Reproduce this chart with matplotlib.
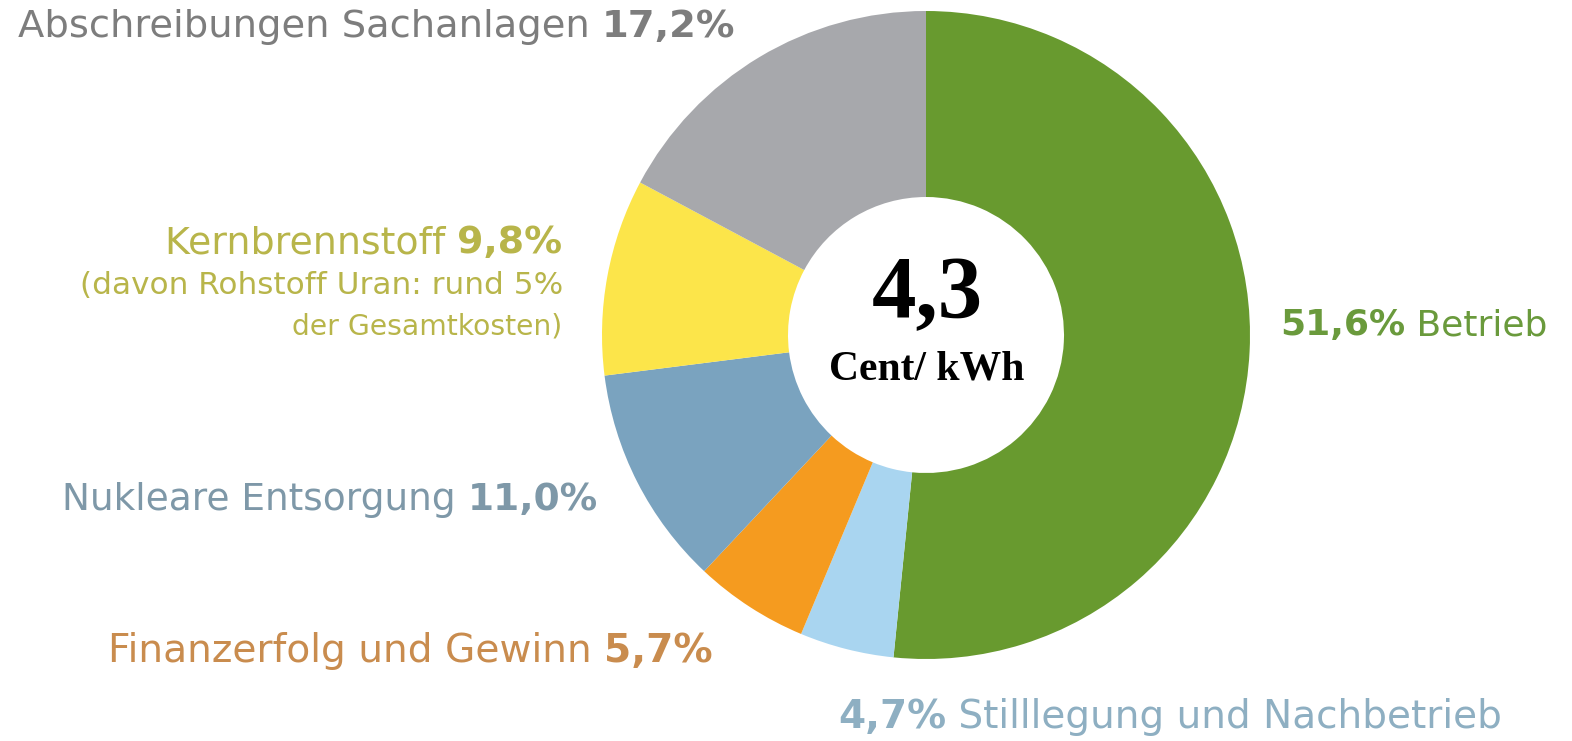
import matplotlib
matplotlib.use('Agg')
import matplotlib.pyplot as plt

# Kostenanteile (Prozent), im Uhrzeigersinn ab 12 Uhr
labels = ['Betrieb', 'Stilllegung und Nachbetrieb', 'Finanzerfolg und Gewinn',
          'Nukleare Entsorgung', 'Kernbrennstoff', 'Abschreibungen Sachanlagen']
shares = [51.6, 4.7, 5.7, 11.0, 9.8, 17.2]
pct_text = ['51,6%', '4,7%', '5,7%', '11,0%', '9,8%', '17,2%']
colors = ['#689a2f', '#a9d5f0', '#f59b1f', '#7aa3bf', '#fce54a', '#a7a8ac']
text_colors = ['#6a9a3c', '#8eafc2', '#c98c4e', '#7e98a8', '#b8b54a', '#7d7d7d']
center_value = '4,3'
center_unit = 'Cent/ kWh'

W, H = 1572, 741
fig = plt.figure(figsize=(W / 100, H / 100), dpi=100)
ax = fig.add_axes([0, 0, 1, 1])
ax.set_xlim(0, W)
ax.set_ylim(0, H)
ax.set_aspect('equal')
ax.axis('off')

ax.pie(shares, colors=colors, startangle=90, counterclock=False,
       center=(926, H - 335), radius=324,
       wedgeprops=dict(width=186, linewidth=0))
ax.set_xlim(0, W)
ax.set_ylim(0, H)

fig.canvas.draw()
renderer = fig.canvas.get_renderer()
FONT = 'DejaVu Sans'


def put_parts(parts, x0, x1, y, color, size=22):
    # parts: list of (text, bold) side by side, fitted between x0 and x1; y from top
    objs = []
    for txt, bold in parts:
        t = ax.text(0, H - y, txt, fontsize=size, color=color, family=FONT,
                    fontweight='bold' if bold else 'normal', va='center', ha='left')
        objs.append(t)
    total = sum(o.get_window_extent(renderer).width for o in objs)
    new_size = size * (x1 - x0) / total
    for o in objs:
        o.set_fontsize(new_size)
    start = x0
    for o in objs:
        o.set_x(start)
        start += o.get_window_extent(renderer).width


put_parts([(labels[5] + ' ', False), (pct_text[5], True)], 18, 735, 27, text_colors[5])
put_parts([(labels[4] + ' ', False), (pct_text[4], True)], 165, 562, 243, text_colors[4])
put_parts([('(davon Rohstoff Uran: rund 5%', False)], 80, 562, 285, text_colors[4])
put_parts([('der Gesamtkosten)', False)], 292, 562, 326, text_colors[4])
put_parts([(labels[3] + ' ', False), (pct_text[3], True)], 62, 598, 500, text_colors[3])
put_parts([(labels[2] + ' ', False), (pct_text[2], True)], 108, 713, 651, text_colors[2])
put_parts([(pct_text[0], True), (' ' + labels[0], False)], 1280, 1548, 325, text_colors[0])
put_parts([(pct_text[1], True), (' ' + labels[1], False)], 838, 1503, 717, text_colors[1])

ax.text(927, H - 296, center_value, fontsize=64, fontweight='bold',
        family='Liberation Serif', ha='center', va='center', color='black')
ax.text(927, H - 369, center_unit, fontsize=30, fontweight='bold',
        family='Liberation Serif', ha='center', va='center', color='black')

fig.savefig('out.png', dpi=100)
